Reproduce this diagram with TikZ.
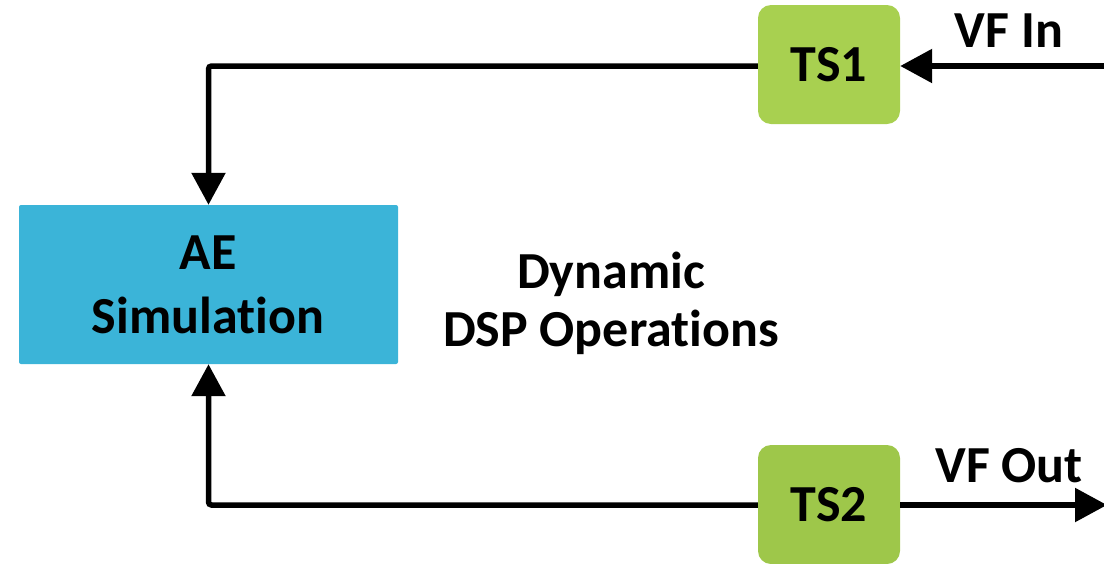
\documentclass[tikz,border=0pt]{standalone}
\usepackage{fontspec}
\setmainfont[Ligatures=NoCommon]{Carlito}
\usetikzlibrary{arrows.meta}
\definecolor{aeblue}{RGB}{59,180,216}
\definecolor{tsgreenA}{RGB}{168,208,80}
\definecolor{tsgreenB}{RGB}{158,199,74}
\tikzset{
  lbl/.style={font=\fontsize{52}{58}\selectfont\bfseries, inner sep=0pt},
  tsbox/.style={rounded corners=13pt, minimum width=142pt, minimum height=119pt, inner sep=0pt, font=\fontsize{52}{58}\selectfont\bfseries},
  conn/.style={line width=5.5pt, rounded corners=3pt, -{Triangle[length=32pt,width=33pt]}},
}
\begin{document}
\begin{tikzpicture}[x=1pt,y=-1pt]
\useasboundingbox (0,0) rectangle (1104,563);
\node[draw=none, fill=aeblue, rounded corners=2pt, minimum width=379pt, minimum height=159pt, inner sep=0pt] (ae) at (208.5,284.5) {};
\node[lbl, align=center, anchor=north] (aetxt) at (208,236) {AE\\[6pt]Simulation};
\node[tsbox, fill=tsgreenA] (ts1) at (829,64.5) {TS1};
\node[tsbox, fill=tsgreenB] (ts2) at (829,504.5) {TS2};
\node[lbl, align=center, anchor=north] (dsp) at (611,252) {Dynamic\\DSP Operations};
\node[lbl, anchor=base] (vfin) at (1009,47) {VF In};
\node[lbl, anchor=base] (vfout) at (1009,482) {VF Out};
\coordinate (inR) at (1104,66);
\coordinate (outR) at (1107,505);
\draw[conn] (ts1.west |- 0,66) -| (ae.north);
\draw[conn] (ts2.west |- 0,505) -| (ae.south);
\draw[conn] (inR) -- (ts1.east |- inR);
\draw[conn] (ts2.east |- outR) -- (outR);
\end{tikzpicture}
\end{document}
